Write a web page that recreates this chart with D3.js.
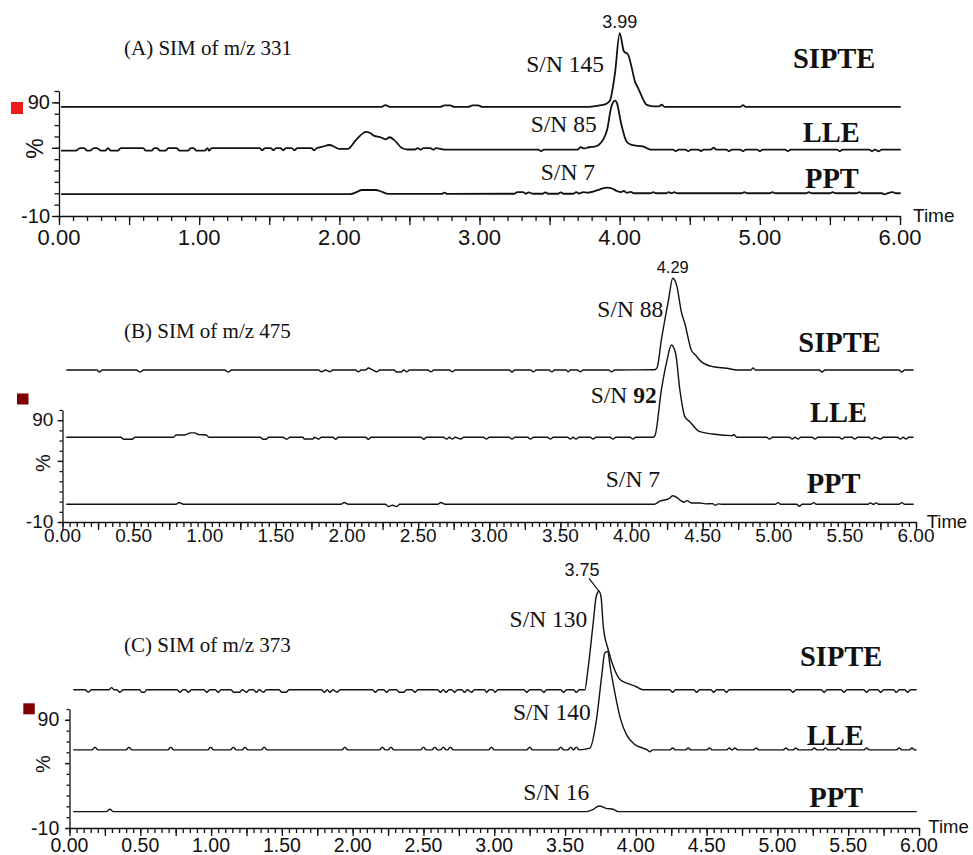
<!DOCTYPE html>
<html>
<head>
<meta charset="utf-8">
<script src="https://cdn.jsdelivr.net/npm/d3@7"></script>
<style>
  body { margin: 0; background: #fff; }
  svg { display: block; }
  .trace { fill: none; stroke: #111; stroke-linejoin: round; stroke-linecap: round; }
  .axis line, .axis path { stroke: #111; }
  .serif { font-family: "Liberation Serif", "Times New Roman", serif; fill: #111; }
  .sans { font-family: "Liberation Sans", Arial, sans-serif; fill: #111; }
</style>
</head>
<body>
<script>
// ---- data: [time (min), intensity (%)] ----
// panel A, m/z 331
var traceA_SIPTE = [[0.02,86],[2.30,86],[2.33,87.6],[2.36,86],[2.72,86],[2.75,87.4],[2.79,87.4],[2.82,86],[2.92,86],[2.95,87.4],[2.99,87.4],[3.02,86],
  [3.78,86],[3.84,87],[3.90,88.5],[3.93,91.5],[3.967,116],[4.00,151],[4.03,135],[4.06,132],[4.085,121],[4.11,108],[4.13,103],[4.17,92],[4.19,88],
  [4.24,86.5],[4.28,86.5],[4.30,88],[4.32,86],[4.86,86],[4.88,87.5],[4.90,86],[6.00,86]];
var traceA_LLE = [[0.02,47.5],[0.12,47.5],[0.15,49.8],[0.18,49.8],[0.20,47.5],[0.22,47.5],[0.25,49.8],[0.27,49.8],[0.30,47.5],[0.33,47.5],[0.35,49.8],
  [0.37,47.5],[0.42,47.5],[0.44,49.8],[0.60,49.8],[0.62,47.5],[0.66,47.5],[0.68,49.8],[0.70,49.8],[0.72,47.5],[0.76,47.5],[0.78,49.8],[0.84,49.8],
  [0.86,47.5],[0.92,47.5],[0.94,49.8],[0.96,49.8],[0.98,47.5],[1.04,47.5],[1.06,49.8],[1.07,47.5],[1.09,49.8],[1.43,49.8],[1.45,47.8],[1.47,49.8],
  [1.51,49.8],[1.53,47.8],[1.55,49.8],[1.58,49.8],[1.60,47.8],[1.62,49.8],[1.66,49.8],[1.68,47.8],[1.70,49.8],[1.80,49.8],[1.82,47.8],[1.84,49.8],
  [1.88,51],[1.93,52.5],[1.97,50.5],[2.00,49],[2.06,49],[2.12,57],[2.19,64],[2.22,63],[2.25,60.5],[2.29,59.5],[2.33,57.5],[2.36,59.3],[2.39,57],
  [2.45,49.6],[2.49,48.5],[2.54,48.5],[2.56,49.8],[2.58,48.2],[2.60,49.8],[2.65,49.8],[2.67,48.2],[2.69,49.8],[2.75,48.4],[3.42,48.4],[3.44,47],
  [3.46,48.4],[3.70,48.4],[3.72,50.5],[3.75,49.5],[3.78,50.5],[3.82,51],[3.85,52.5],[3.91,65.7],[3.94,86],[3.967,91.5],[3.98,89.5],[4.01,71.6],
  [4.05,55.4],[4.085,52.5],[4.17,51],[4.22,48.4],[4.38,48.4],[4.40,47],[4.42,48.4],[4.47,48.4],[4.49,47],[4.51,48.4],[4.56,48.4],[4.58,47.2],
  [4.60,48.4],[4.65,48.4],[4.67,50.2],[4.69,48.4],[4.76,48.4],[4.78,47],[4.80,48.4],[4.86,48.4],[4.88,47],[4.90,48.4],[4.98,48.4],[5.00,47],
  [5.02,48.4],[5.18,48.4],[5.20,47],[5.22,48.4],[5.55,48.4],[5.57,47],[5.59,48.4],[5.78,48.4],[5.80,47],[5.82,48.4],[5.85,47],[5.87,48.4],[6.00,48.4]];
var traceA_PPT = [[0.02,9.2],[2.08,9.2],[2.13,11.5],[2.16,12.9],[2.26,12.9],[2.30,11.5],[2.35,9.4],[2.73,9.4],[2.75,10.6],[2.77,9.4],[3.25,9.6],
  [3.27,11],[3.31,11],[3.33,9.6],[3.35,10.8],[3.38,9.6],[3.45,9.6],[3.47,10.8],[3.49,9.6],[3.56,9.6],[3.58,10.8],[3.60,9.6],[3.67,9.6],[3.69,11],
  [3.71,9.8],[3.74,11],[3.77,10.5],[3.81,11.5],[3.86,13.5],[3.91,15],[3.95,14],[3.98,12],[4.01,11],[4.03,12],[4.05,10.4],[4.08,11.2],[4.10,10],
  [4.22,10],[4.24,11],[4.26,10],[4.33,10],[4.35,11],[4.37,10],[4.39,11],[4.41,10],[4.87,10],[4.89,11],[4.91,10],[5.07,10],[5.09,11],[5.11,10],
  [5.33,10],[5.35,11],[5.37,10],[5.50,10],[5.52,11],[5.54,10],[5.69,10],[5.71,11],[5.73,10],[5.87,10],[5.89,9],[5.91,10],[5.95,11],[5.97,10],[6.00,10]];

// panel B, m/z 475
var traceB_SIPTE = [[0.03,139.3],[0.24,139.3],[0.26,137.3],[0.28,139.3],[0.52,139.3],[0.545,137.3],[0.57,139.3],[1.14,139.3],[1.165,137.3],
  [1.19,139.3],[1.80,139.3],[1.82,137.5],[1.85,139.3],[1.88,137.5],[1.90,139.3],[2.06,139.3],[2.08,137.5],[2.10,139.3],[2.13,139.3],[2.15,141.3],
  [2.18,139.3],[2.21,137.5],[2.23,139.3],[2.33,139.3],[2.35,137.3],[2.38,137.3],[2.40,139.3],[2.42,137.5],[2.44,139.3],[2.57,139.3],[2.59,137.5],
  [2.61,139.3],[2.72,139.3],[2.74,137.5],[2.76,139.3],[3.14,139.3],[3.16,137.3],[3.18,139.3],[3.29,139.3],[3.31,137.5],[3.33,139.3],[3.42,139.3],
  [3.44,137.5],[3.46,139.3],[3.54,139.3],[3.555,137.5],[3.57,139.3],[3.62,139.3],[3.64,137.5],[3.66,139.3],[3.84,139.3],[3.86,137.5],[3.88,139.3],
  [4.16,139.5],[4.18,141.7],[4.21,168.8],[4.26,208],[4.29,229.4],[4.32,221],[4.35,196.6],[4.375,185],[4.42,159],[4.45,154],[4.49,147.5],
  [4.575,142.5],[4.67,141],[4.74,139.3],[4.84,139.3],[4.855,141.3],[4.87,139.3],[5.32,139.3],[5.34,137.3],[5.36,139.3],[5.88,139.3],[5.90,137.3],
  [5.92,139.3],[5.98,139.3]];
var traceB_LLE = [[0.03,73.2],[0.41,73.2],[0.43,71.3],[0.49,71.3],[0.51,73.2],[0.78,73.2],[0.80,75.5],[0.86,75.5],[0.90,77.5],[0.93,77.5],
  [0.96,75.8],[1.01,75.5],[1.03,73.2],[1.39,73.2],[1.41,71.3],[1.43,71.3],[1.45,73.2],[1.55,73.2],[1.575,71.3],[1.60,73.2],[1.69,73.2],[1.70,71.5],
  [1.76,71.5],[1.77,73.2],[1.80,71.5],[1.82,73.2],[1.90,73.2],[1.92,71.3],[1.94,73.2],[2.13,73.2],[2.15,71.3],[2.17,73.2],[2.52,73.2],[2.54,71.3],
  [2.56,73.2],[2.68,73.2],[2.70,71.5],[2.72,73.2],[2.74,71.5],[2.76,73.2],[2.80,71.5],[2.82,73.2],[2.96,73.2],[2.98,71.5],[3.00,73.2],[3.14,73.2],
  [3.16,71.5],[3.18,73.2],[3.27,73.2],[3.29,71.5],[3.31,73.2],[3.41,73.2],[3.43,71.5],[3.45,73.2],[3.55,73.2],[3.57,71.5],[3.59,73.2],[3.61,71.5],
  [3.63,73.2],[3.71,73.2],[3.73,71.5],[3.75,73.2],[3.85,73.2],[3.87,71.5],[3.89,73.2],[3.99,73.2],[4.01,71.5],[4.03,73.2],[4.15,73.2],[4.165,74.9],
  [4.21,119.7],[4.25,149],[4.28,163.9],[4.31,155.7],[4.34,119.7],[4.375,93.5],[4.41,88.5],[4.48,78.7],[4.57,76.4],[4.71,74.8],[4.72,76],[4.74,73.2],
  [4.95,73.2],[4.97,71.5],[4.99,73.2],[5.11,73.2],[5.13,71.5],[5.15,73.2],[5.17,71.5],[5.19,73.2],[5.27,73.2],[5.29,71.5],[5.31,73.2],[5.46,73.2],
  [5.48,71.5],[5.50,73.2],[5.55,73.2],[5.57,71.5],[5.59,73.2],[5.67,73.2],[5.69,71.5],[5.71,73.2],[5.75,71.5],[5.77,73.2],[5.87,73.2],[5.89,71.5],
  [5.91,73.2],[5.93,71.5],[5.95,73.2],[5.98,73.2]];
var traceB_PPT = [[0.03,7.4],[0.80,7.4],[0.82,9.2],[0.85,7.4],[1.96,7.4],[1.98,9.2],[2.01,7.4],[2.27,7.4],[2.29,5.2],[2.32,6.5],[2.35,5.2],
  [2.37,7.4],[2.64,7.4],[2.66,9.2],[2.69,7.4],[4.16,7.4],[4.20,10.5],[4.23,11.6],[4.26,12.6],[4.29,15.8],[4.32,14],[4.34,11.6],[4.37,9.4],
  [4.39,11],[4.42,8.7],[4.48,8.7],[4.52,7.8],[4.57,8],[4.59,6.5],[4.61,7.8],[4.64,7.4],[5.01,7.4],[5.03,9],[5.05,7.4],[5.16,7.4],[5.18,5.5],
  [5.20,7.4],[5.26,7.4],[5.28,9],[5.30,7.4],[5.66,7.4],[5.68,8.8],[5.70,7.4],[5.72,8.8],[5.74,7.4],[5.88,7.4],[5.90,9],[5.92,7.4],[5.98,7.4]];

// panel C, m/z 373
var traceC_SIPTE = [[0.03,117.8],[0.11,117.8],[0.133,115.5],[0.155,117.8],[0.28,117.8],[0.297,119.8],[0.315,117.8],[0.335,117.8],[0.356,115.5],
  [0.38,117.8],[0.495,117.8],[0.51,115.5],[0.53,115.5],[0.545,117.8],[0.76,117.8],[0.78,115.5],[0.80,117.8],[0.82,117.8],[0.84,115.5],[0.86,117.8],
  [0.95,117.8],[0.97,115.5],[0.99,117.8],[1.03,117.8],[1.05,115.5],[1.07,117.8],[1.14,117.8],[1.16,115.5],[1.20,115.5],[1.22,117.8],[1.25,115.5],
  [1.27,117.8],[1.30,117.8],[1.32,115.5],[1.34,117.8],[1.37,115.5],[1.39,117.8],[1.48,117.8],[1.50,115.5],[1.53,115.5],[1.55,117.8],[1.78,117.8],
  [1.80,115.5],[1.82,117.8],[1.84,115.5],[1.86,117.8],[1.89,115.5],[1.91,117.8],[2.14,117.8],[2.16,115.5],[2.18,117.8],[2.22,117.8],[2.24,115.5],
  [2.26,117.8],[2.31,117.8],[2.33,115.5],[2.36,115.5],[2.38,117.8],[2.42,117.8],[2.44,115.5],[2.46,117.8],[2.60,117.8],[2.62,115.5],[2.64,117.8],
  [2.66,115.5],[2.68,117.8],[2.70,117.8],[2.72,115.5],[2.74,117.8],[2.77,117.8],[2.79,115.5],[2.81,117.8],[2.84,115.5],[2.86,117.8],[2.93,117.8],
  [2.946,115.5],[2.965,117.8],[2.99,117.8],[3.005,115.5],[3.025,117.8],[3.21,117.8],[3.23,115.5],[3.25,117.8],[3.33,117.8],[3.35,115.5],[3.37,117.8],
  [3.47,117.8],[3.49,115.5],[3.51,117.8],[3.56,117.8],[3.58,115.5],[3.60,117.8],[3.64,117.8],[3.66,134.7],[3.70,181],[3.72,204],[3.74,208.8],
  [3.755,202.7],[3.77,176.4],[3.805,154.8],[3.85,136.3],[3.89,127],[3.935,124],[4.00,120.8],[4.05,117.8],[4.24,117.8],[4.26,115.5],[4.28,117.8],
  [4.41,117.8],[4.43,115.5],[4.45,117.8],[4.53,117.8],[4.55,115.5],[4.57,117.8],[4.62,117.8],[4.64,115.5],[4.66,117.8],[5.09,117.8],[5.11,115.5],
  [5.13,117.8],[5.31,117.8],[5.33,115.5],[5.35,117.8],[5.45,117.8],[5.47,115.5],[5.49,117.8],[5.61,117.8],[5.63,115.5],[5.65,117.8],[5.71,117.8],
  [5.73,115.5],[5.75,117.8],[5.82,117.8],[5.84,115.5],[5.86,117.8],[5.90,117.8],[5.92,115.5],[5.94,117.8],[5.98,117.8]];
var traceC_LLE = [[0.03,62.2],[0.16,62.2],[0.18,64.8],[0.20,62.2],[0.40,62.2],[0.42,64.8],[0.44,62.2],[0.695,62.2],[0.715,64.8],[0.735,62.2],
  [0.977,62.2],[0.997,64.8],[1.017,62.2],[1.137,62.2],[1.157,64.8],[1.177,62.2],[1.22,62.2],[1.24,64.8],[1.26,62.2],[1.355,62.2],[1.375,64.8],
  [1.395,62.2],[1.925,62.2],[1.945,64.8],[1.965,62.2],[2.19,62.2],[2.21,64.8],[2.23,62.2],[2.25,62.2],[2.27,64.8],[2.29,62.2],[2.48,62.2],[2.50,64.8],
  [2.52,62.2],[2.56,62.2],[2.58,64.8],[2.60,62.2],[2.62,62.2],[2.64,64.8],[2.66,62.2],[2.67,62.2],[2.69,64.8],[2.71,62.2],[2.96,62.2],[2.98,64.8],
  [3.00,62.2],[3.23,62.2],[3.25,64.8],[3.27,62.2],[3.45,62.2],[3.47,64.8],[3.49,62.2],[3.52,62.2],[3.54,64.8],[3.56,62.2],[3.58,64.8],[3.60,62.2],
  [3.675,63.8],[3.72,88.4],[3.76,131.7],[3.78,151.8],[3.80,153.2],[3.82,137.9],[3.85,116.2],[3.89,91.6],[3.935,76.1],[3.99,67.5],[4.05,63.8],
  [4.08,62.2],[4.10,60.5],[4.12,62.2],[4.24,62.2],[4.26,64],[4.28,62.2],[4.35,62.2],[4.37,64],[4.39,62.2],[4.50,62.2],[4.52,64],[4.54,62.2],
  [4.64,62.2],[4.66,64],[4.68,62.2],[4.70,64],[4.72,62.2],[4.83,62.2],[4.85,64],[4.87,62.2],[5.04,62.2],[5.06,64],[5.08,62.2],[5.11,62.2],[5.13,64],
  [5.15,62.2],[5.24,62.2],[5.26,64],[5.28,62.2],[5.32,62.2],[5.34,64],[5.36,62.2],[5.41,62.2],[5.43,64],[5.45,62.2],[5.61,62.2],[5.63,64],[5.65,62.2],
  [5.84,62.2],[5.86,64],[5.88,62.2],[5.93,62.2],[5.95,64],[5.97,62.2],[5.98,62.2]];
var traceC_PPT = [[0.03,5.1],[0.26,5.1],[0.285,7.3],[0.31,5.1],[3.65,5.1],[3.70,7.3],[3.74,10.4],[3.79,8.2],[3.84,7.3],[3.875,5.1],[5.98,5.1]];

// labels
var panelTitles = ["(A) SIM of m/z 331", "(B) SIM of m/z 475", "(C) SIM of m/z 373"];
var methods = ["SIPTE", "LLE", "PPT"];
var snValues = [["145", "85", "7"], ["88", "92", "7"], ["130", "140", "16"]];
var peakLabels = ["3.99", "4.29", "3.75"];
var yTickLabels = [90, -10];

// page layout (pixels) for each panel
var panels = [
  { traces: [traceA_SIPTE, traceA_LLE, traceA_PPT], x0: 59, x1: 900, yBot: 216, yTop: 91,
    xMinor: 0.1, xMajor: 0.5, xLab: 1, xMinorLen: 5, xMajorLen: 9, xFont: 22, xLabY: 245,
    yMinorLen: 4.5, yMajorLen: 7, yFont: 20, yLabX: 50, yLabDy: 7, pct: [35, 148.5], pctFont: 23,
    lineW: 1.8, title: [124, 55], time: [913, 221.7], timeFont: 19,
    sn: [[604, 71.5], [596.7, 131.7], [595, 180]], meth: [[793, 67.7], [802.7, 141.7], [805, 187.7]],
    peakFont: 18, peakDx: 0, peakDy: -5, leader: false, square: [11, 102, 12, 12, "#ee1b1b"] },
  { traces: [traceB_SIPTE, traceB_LLE, traceB_PPT], x0: 62.5, x1: 916, yBot: 522, yTop: 410,
    xMinor: 0.05, xMajor: 0.25, xLab: 0.5, xMinorLen: 5, xMajorLen: 8, xFont: 19, xLabY: 542,
    yMinorLen: 3, yMajorLen: 5, yFont: 19, yLabX: 53.3, yLabDy: 6, pct: [42.5, 463], pctFont: 20,
    lineW: 1.4, title: [124, 338], time: [926.7, 528.3], timeFont: 18.5,
    sn: [[663.3, 316.7], [656.7, 402.7], [660, 487.3]], meth: [[798.3, 351.7], [810, 421.7], [806.7, 492.7]],
    peakFont: 16.5, peakDx: 0, peakDy: -5, leader: false, square: [17, 393.5, 11.5, 11, "#800000"] },
  { traces: [traceC_SIPTE, traceC_LLE, traceC_PPT], x0: 69.5, x1: 919, yBot: 828, yTop: 709,
    xMinor: 0.05, xMajor: 0.25, xLab: 0.5, xMinorLen: 5, xMajorLen: 8, xFont: 19.5, xLabY: 852,
    yMinorLen: 3, yMajorLen: 4.5, yFont: 19.5, yLabX: 59.3, yLabDy: 6.5, pct: [42.5, 764], pctFont: 20,
    lineW: 1.4, title: [124, 652], time: [928.3, 833.3], timeFont: 18.5,
    sn: [[587.3, 627.3], [590.7, 720], [589.3, 800]], meth: [[800, 666], [806.7, 745], [809.3, 806.7]],
    peakFont: 18, peakDx: -17, peakDy: -15, leader: true, square: [23.3, 703.3, 11.5, 11, "#800000"] }
];

var svg = d3.select("body").append("svg")
  .attr("width", 973)
  .attr("height", 855);

panels.forEach(function(p, i){
  var g = svg.append("g");

  var x = d3.scaleLinear().domain([0, 6]).range([p.x0, p.x1]);
  var y = d3.scaleLinear().domain([-10, 100]).range([p.yBot, p.yTop]);

  //x axis: minor and major ticks, labels drawn separately
  g.append("g").attr("class", "axis")
    .attr("transform", "translate(0," + p.yBot + ")")
    .call(d3.axisBottom(x).tickValues(d3.range(0, 6.0001, p.xMinor)).tickSize(p.xMinorLen).tickSizeOuter(0).tickFormat(""))
    .call(function(s){ s.selectAll("line,path").attr("stroke-width", 1.3); });
  g.append("g").attr("class", "axis")
    .attr("transform", "translate(0," + p.yBot + ")")
    .call(d3.axisBottom(x).tickValues(d3.range(0, 6.0001, p.xMajor)).tickSize(p.xMajorLen).tickSizeOuter(0).tickFormat(""))
    .call(function(s){ s.select("path").remove(); s.selectAll("line").attr("stroke-width", 1.3); });

  g.selectAll(".xlab")
    .data(d3.range(0, 6.0001, p.xLab))
    .enter().append("text")
    .attr("class", "sans")
    .attr("x", function(d){ return x(d); })
    .attr("y", p.xLabY)
    .attr("text-anchor", "middle")
    .style("font-size", p.xFont + "px")
    .text(function(d){ return d3.format(".2f")(d); });

  //y axis
  g.append("g").attr("class", "axis")
    .attr("transform", "translate(" + p.x0 + ",0)")
    .call(d3.axisLeft(y).tickValues(d3.range(-10, 100.001, 10)).tickSize(p.yMinorLen).tickSizeOuter(0).tickFormat(""))
    .call(function(s){ s.selectAll("line,path").attr("stroke-width", 1.3); });
  g.append("g").attr("class", "axis")
    .attr("transform", "translate(" + p.x0 + ",0)")
    .call(d3.axisLeft(y).tickValues([-10, 50, 90]).tickSize(p.yMajorLen).tickSizeOuter(0).tickFormat(""))
    .call(function(s){ s.select("path").remove(); s.selectAll("line").attr("stroke-width", 1.3); });

  g.selectAll(".ylab")
    .data(yTickLabels)
    .enter().append("text")
    .attr("class", "sans")
    .attr("x", p.yLabX)
    .attr("y", function(d){ return y(d) + p.yLabDy; })
    .attr("text-anchor", "end")
    .style("font-size", p.yFont + "px")
    .text(function(d){ return d; });

  g.append("text")
    .attr("class", "sans")
    .attr("transform", "translate(" + p.pct[0] + "," + p.pct[1] + ") rotate(-90)")
    .attr("text-anchor", "middle")
    .attr("dy", "0.35em")
    .style("font-size", p.pctFont + "px")
    .text("%");

  g.append("text")
    .attr("class", "sans")
    .attr("x", p.time[0]).attr("y", p.time[1])
    .style("font-size", p.timeFont + "px")
    .text("Time");

  g.append("rect")
    .attr("x", p.square[0]).attr("y", p.square[1])
    .attr("width", p.square[2]).attr("height", p.square[3])
    .attr("fill", p.square[4]);

  //chromatogram traces
  var line = d3.line()
    .x(function(d){ return x(d[0]); })
    .y(function(d){ return y(d[1]); })
    .curve(d3.curveMonotoneX);

  g.selectAll(".trace")
    .data(p.traces)
    .enter().append("path")
    .attr("class", "trace")
    .attr("stroke-width", p.lineW)
    .attr("d", line);

  //peak apex label on the top trace
  var apex = d3.greatest(p.traces[0], function(d){ return d[1]; });
  var ax = x(apex[0]), ay = y(apex[1]);
  g.append("text")
    .attr("class", "sans")
    .attr("x", ax + p.peakDx)
    .attr("y", ay + p.peakDy)
    .attr("text-anchor", "middle")
    .style("font-size", p.peakFont + "px")
    .text(peakLabels[i]);
  if (p.leader) {
    g.append("line")
      .attr("x1", ax - 10).attr("y1", ay - 13)
      .attr("x2", ax).attr("y2", ay)
      .attr("stroke", "#111").attr("stroke-width", 1.2);
  }

  //panel title
  g.append("text")
    .attr("class", "serif")
    .attr("x", p.title[0]).attr("y", p.title[1])
    .style("font-size", "21px")
    .text(panelTitles[i]);

  //S/N values and method names
  methods.forEach(function(m, j){
    var sn = g.append("text")
      .attr("class", "serif")
      .attr("x", p.sn[j][0]).attr("y", p.sn[j][1])
      .attr("text-anchor", "end")
      .style("font-size", "23.5px");
    sn.append("tspan").text("S/N ");
    sn.append("tspan")
      .style("font-weight", (i === 1 && j === 1) ? "bold" : "normal")
      .text(snValues[i][j]);

    g.append("text")
      .attr("class", "serif")
      .attr("x", p.meth[j][0]).attr("y", p.meth[j][1])
      .style("font-size", "28.5px")
      .style("font-weight", "bold")
      .text(m);
  });
});
</script>
</body>
</html>
